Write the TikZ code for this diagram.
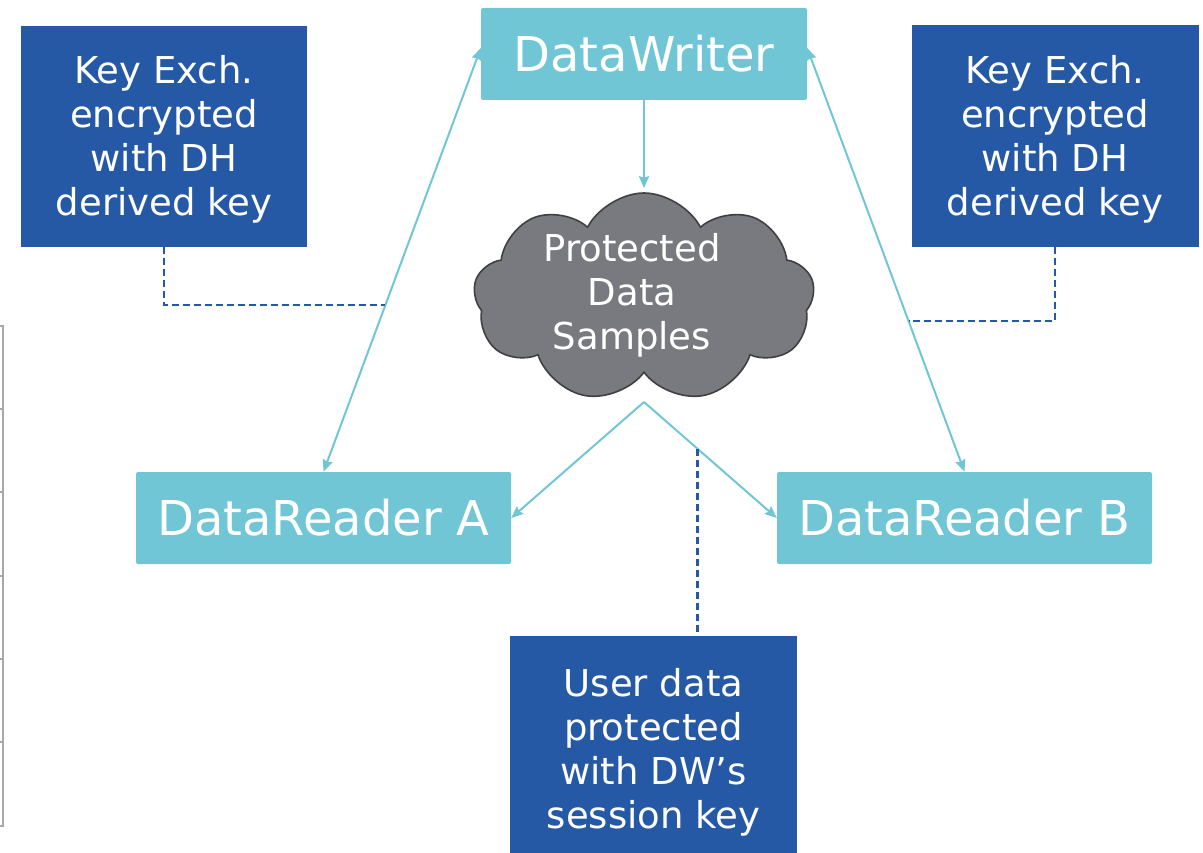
\documentclass[tikz,border=0pt]{standalone}
\usepackage{fontspec}
\setmainfont{DejaVu Sans}
\usetikzlibrary{shapes.symbols,arrows.meta}

\definecolor{lightbox}{HTML}{71C6D6}
\definecolor{darkbox}{HTML}{2559A6}
\definecolor{cloudfill}{HTML}{797A7F}
\definecolor{cloudedge}{HTML}{404040}
\definecolor{rulegray}{HTML}{A8A8A8}

\tikzset{
  entity/.style={fill=lightbox, rounded corners=2pt, inner sep=0pt,
    minimum width=375pt, minimum height=92pt, text=white,
    font=\fontsize{48}{56}\selectfont},
  keynote/.style={fill=darkbox, inner sep=0pt},
  notetext/.style={text=white, align=center, inner sep=0pt,
    font=\fontsize{37}{44}\selectfont},
  link/.style={draw=lightbox, line width=2pt, -{Stealth[length=12pt,width=10pt,inset=1.5pt]}},
  biglink/.style={draw=lightbox, line width=2pt,
    {Stealth[length=12pt,width=10pt,inset=1.5pt]}-{Stealth[length=12pt,width=10pt,inset=1.5pt]}},
  keyline/.style={draw=darkbox, line width=2.2pt, dash pattern=on 7pt off 4pt},
  ruler/.style={draw=rulegray, line width=1.8pt}
}

\begin{document}
\begin{tikzpicture}[x=1pt,y=-1pt]
  \useasboundingbox (0,0) rectangle (1203,853);

  % participants
  \node[entity, minimum width=326pt] (dw) at (644,54) {DataWriter};
  \node[entity] (dra) at (323.5,518) {DataReader A};
  \node[entity] (drb) at (964.5,518) {DataReader B};

  % shared data cloud
  \node[cloud, cloud puffs=9, cloud puff arc=125, aspect=1.63,
        fill=cloudfill, draw=cloudedge, line width=1.6pt, inner sep=0pt,
        minimum width=341pt, minimum height=209pt] (cloud) at (644,297.5) {};
  \node[notetext] (cloudtxt) at (632,295) {Protected\\Data\\Samples};

  % key notes
  \node[keynote, minimum width=286pt, minimum height=221pt] (kl) at (164,136.5) {};
  \node[notetext] (kltxt) at (164,139.5) {Key Exch.\\encrypted\\with DH\\derived key};
  \node[keynote, minimum width=287pt, minimum height=222pt] (kr) at (1055,136) {};
  \node[notetext] (krtxt) at (1055,139) {Key Exch.\\encrypted\\with DH\\derived key};
  \node[keynote, minimum width=287pt, minimum height=217pt] (ud) at (653.5,744.5) {};
  \node[notetext] (udtxt) at (653.5,752) {User data\\protected\\with DW’s\\session key};

  % key exchange links
  \draw[biglink] ([yshift=6pt]dw.west) -- coordinate[pos=0.607] (ml) (dra.north);
  \draw[biglink] ([yshift=6pt]dw.east) -- coordinate[pos=0.645] (mr) (drb.north);

  % data flow
  \draw[link] (dw.south) -- ([yshift=4pt]cloud.north);
  \coordinate (cb) at (644,402);
  \draw[link] (cb) -- (dra.east);
  \draw[link] (cb) -- coordinate[pos=0.403] (mb) (drb.west);

  % dashed callouts
  \draw[keyline] (kl.south) |- (ml);
  \draw[keyline] (kr.south) |- (mr);
  \draw[keyline] (mb) -- (mb |- ud.north);

  % ruler at the left edge
  \draw[ruler] (3,326) -- (3,826);
  \foreach \y in {326,409,492,576,659,742,826}
    \draw[ruler] (0,\y) -- (3.8,\y);
\end{tikzpicture}
\end{document}
